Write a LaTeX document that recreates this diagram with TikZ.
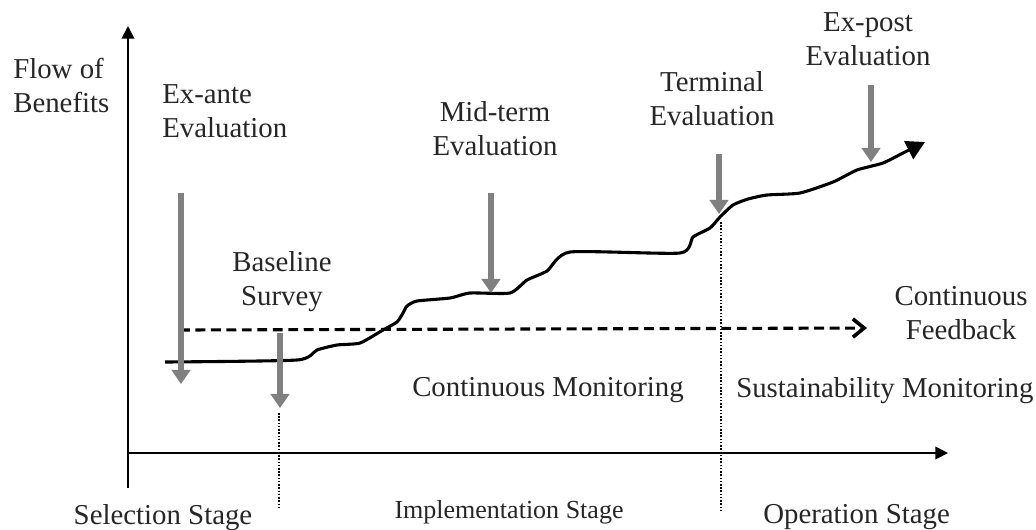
\documentclass[tikz,border=0pt]{standalone}
\usepackage{fontspec}
\setmainfont{Liberation Serif}
\usetikzlibrary{arrows.meta}

\begin{document}
\begin{tikzpicture}[x=0.025cm, y=-0.025cm,
        lbl/.style={font=\fontsize{20.5}{24}\selectfont, inner sep=0pt, text=black!85},
        evalarrow/.style={line width=3.6pt, draw=gray, -{Triangle[width=13pt,length=10pt]}},
        stageline/.style={line width=1.1pt, dash pattern=on 1.1pt off 1.2pt},
    ]
        \useasboundingbox (0,0) rectangle (1036,529);
        % x and y axes
        \coordinate (ybot) at (128,488);
        \coordinate (ytop) at (128,26);
        \coordinate (xleft) at (128,453);
        \coordinate (xright) at (948,453);
        \draw[line width=1.3pt, -{Triangle[width=9pt,length=9pt]}] (ybot) -- (ytop);
        \draw[line width=1.3pt, -{Triangle[width=9pt,length=9pt]}] (xleft) -- (xright);

        % labels (base = last line)
        \node[lbl, anchor=base west, align=left] (flow)     at (13,112)  {Flow of\\Benefits};
        \node[lbl, anchor=base west, align=left] (exante)   at (162,137) {Ex-ante\\Evaluation};
        \node[lbl, anchor=base, align=center]   (baseline) at (282,305) {Baseline\\Survey};
        \node[lbl, anchor=base, align=center]   (midterm)  at (495,155) {Mid-term\\Evaluation};
        \node[lbl, anchor=base, align=center]   (terminal) at (712,125) {Terminal\\Evaluation};
        \node[lbl, anchor=base, align=center]   (expost)   at (868,65)  {Ex-post\\Evaluation};
        \node[lbl, anchor=base, align=center]   (feedback) at (961,339) {Continuous\\Feedback};
        \node[lbl, anchor=base]                 (contmon)  at (548,396) {Continuous Monitoring};
        \node[lbl, anchor=base west]            (sustmon)  at (736,397) {Sustainability Monitoring};
        \node[lbl, anchor=base]                 (selstage) at (163,524) {Selection Stage};
        \node[lbl, anchor=base, font=\fontsize{18.5}{22}\selectfont] (impstage) at (509,518) {Implementation Stage};
        \node[lbl, anchor=base west]            (opstage)  at (763,523) {Operation Stage};

        % stage boundaries
        \coordinate (sel-top) at (279,413);
        \coordinate (sel-bot) at (279,507);
        \coordinate (op-top)  at (721,222);
        \coordinate (op-bot)  at (721,512);
        \draw[stageline] (sel-top) -- (sel-bot);
        \draw[stageline] (op-top) -- (op-bot);

        % continuous feedback
        \coordinate (fb-start) at (180,330);
        \coordinate (fb-end)   at (867,328);
        \draw[line width=2.2pt, dash pattern=on 7pt off 4pt, -{Straight Barb[length=8pt,width=13pt,line width=2.6pt]}] (fb-start) -- (fb-end);

        % flow of benefits
        \draw[line width=2.2pt, line join=round, -{Triangle[width=14pt,length=13pt]}]
            plot[smooth, tension=0.35] coordinates {(165,362) (297,360) (317,350) (337,345) (360,343)
            (383,330) (397,322) (403,313) (407,306) (417,301) (450,298) (470,293) (510,293) (527,280)
            (547,271) (570,252) (680,253) (693,237) (710,228) (720,217) (733,205) (748,199) (767,195)
            (800,193) (833,182) (857,170) (883,163) (903,153) (925,142)};

        % evaluation arrows
        \coordinate (exante-top)   at (181,193);
        \coordinate (exante-tip)   at (181,384);
        \coordinate (baseline-top) at (280,333);
        \coordinate (baseline-tip) at (280,408);
        \coordinate (midterm-top)  at (491,193);
        \coordinate (midterm-tip)  at (491,293);
        \coordinate (terminal-top) at (719,154);
        \coordinate (terminal-tip) at (719,214);
        \coordinate (expost-top)   at (871,85);
        \coordinate (expost-tip)   at (871,162);
        \draw[evalarrow] (exante-top) -- (exante-tip);
        \draw[evalarrow] (baseline-top) -- (baseline-tip);
        \draw[evalarrow] (midterm-top) -- (midterm-tip);
        \draw[evalarrow] (terminal-top) -- (terminal-tip);
        \draw[evalarrow] (expost-top) -- (expost-tip);
    \end{tikzpicture}
\end{document}
